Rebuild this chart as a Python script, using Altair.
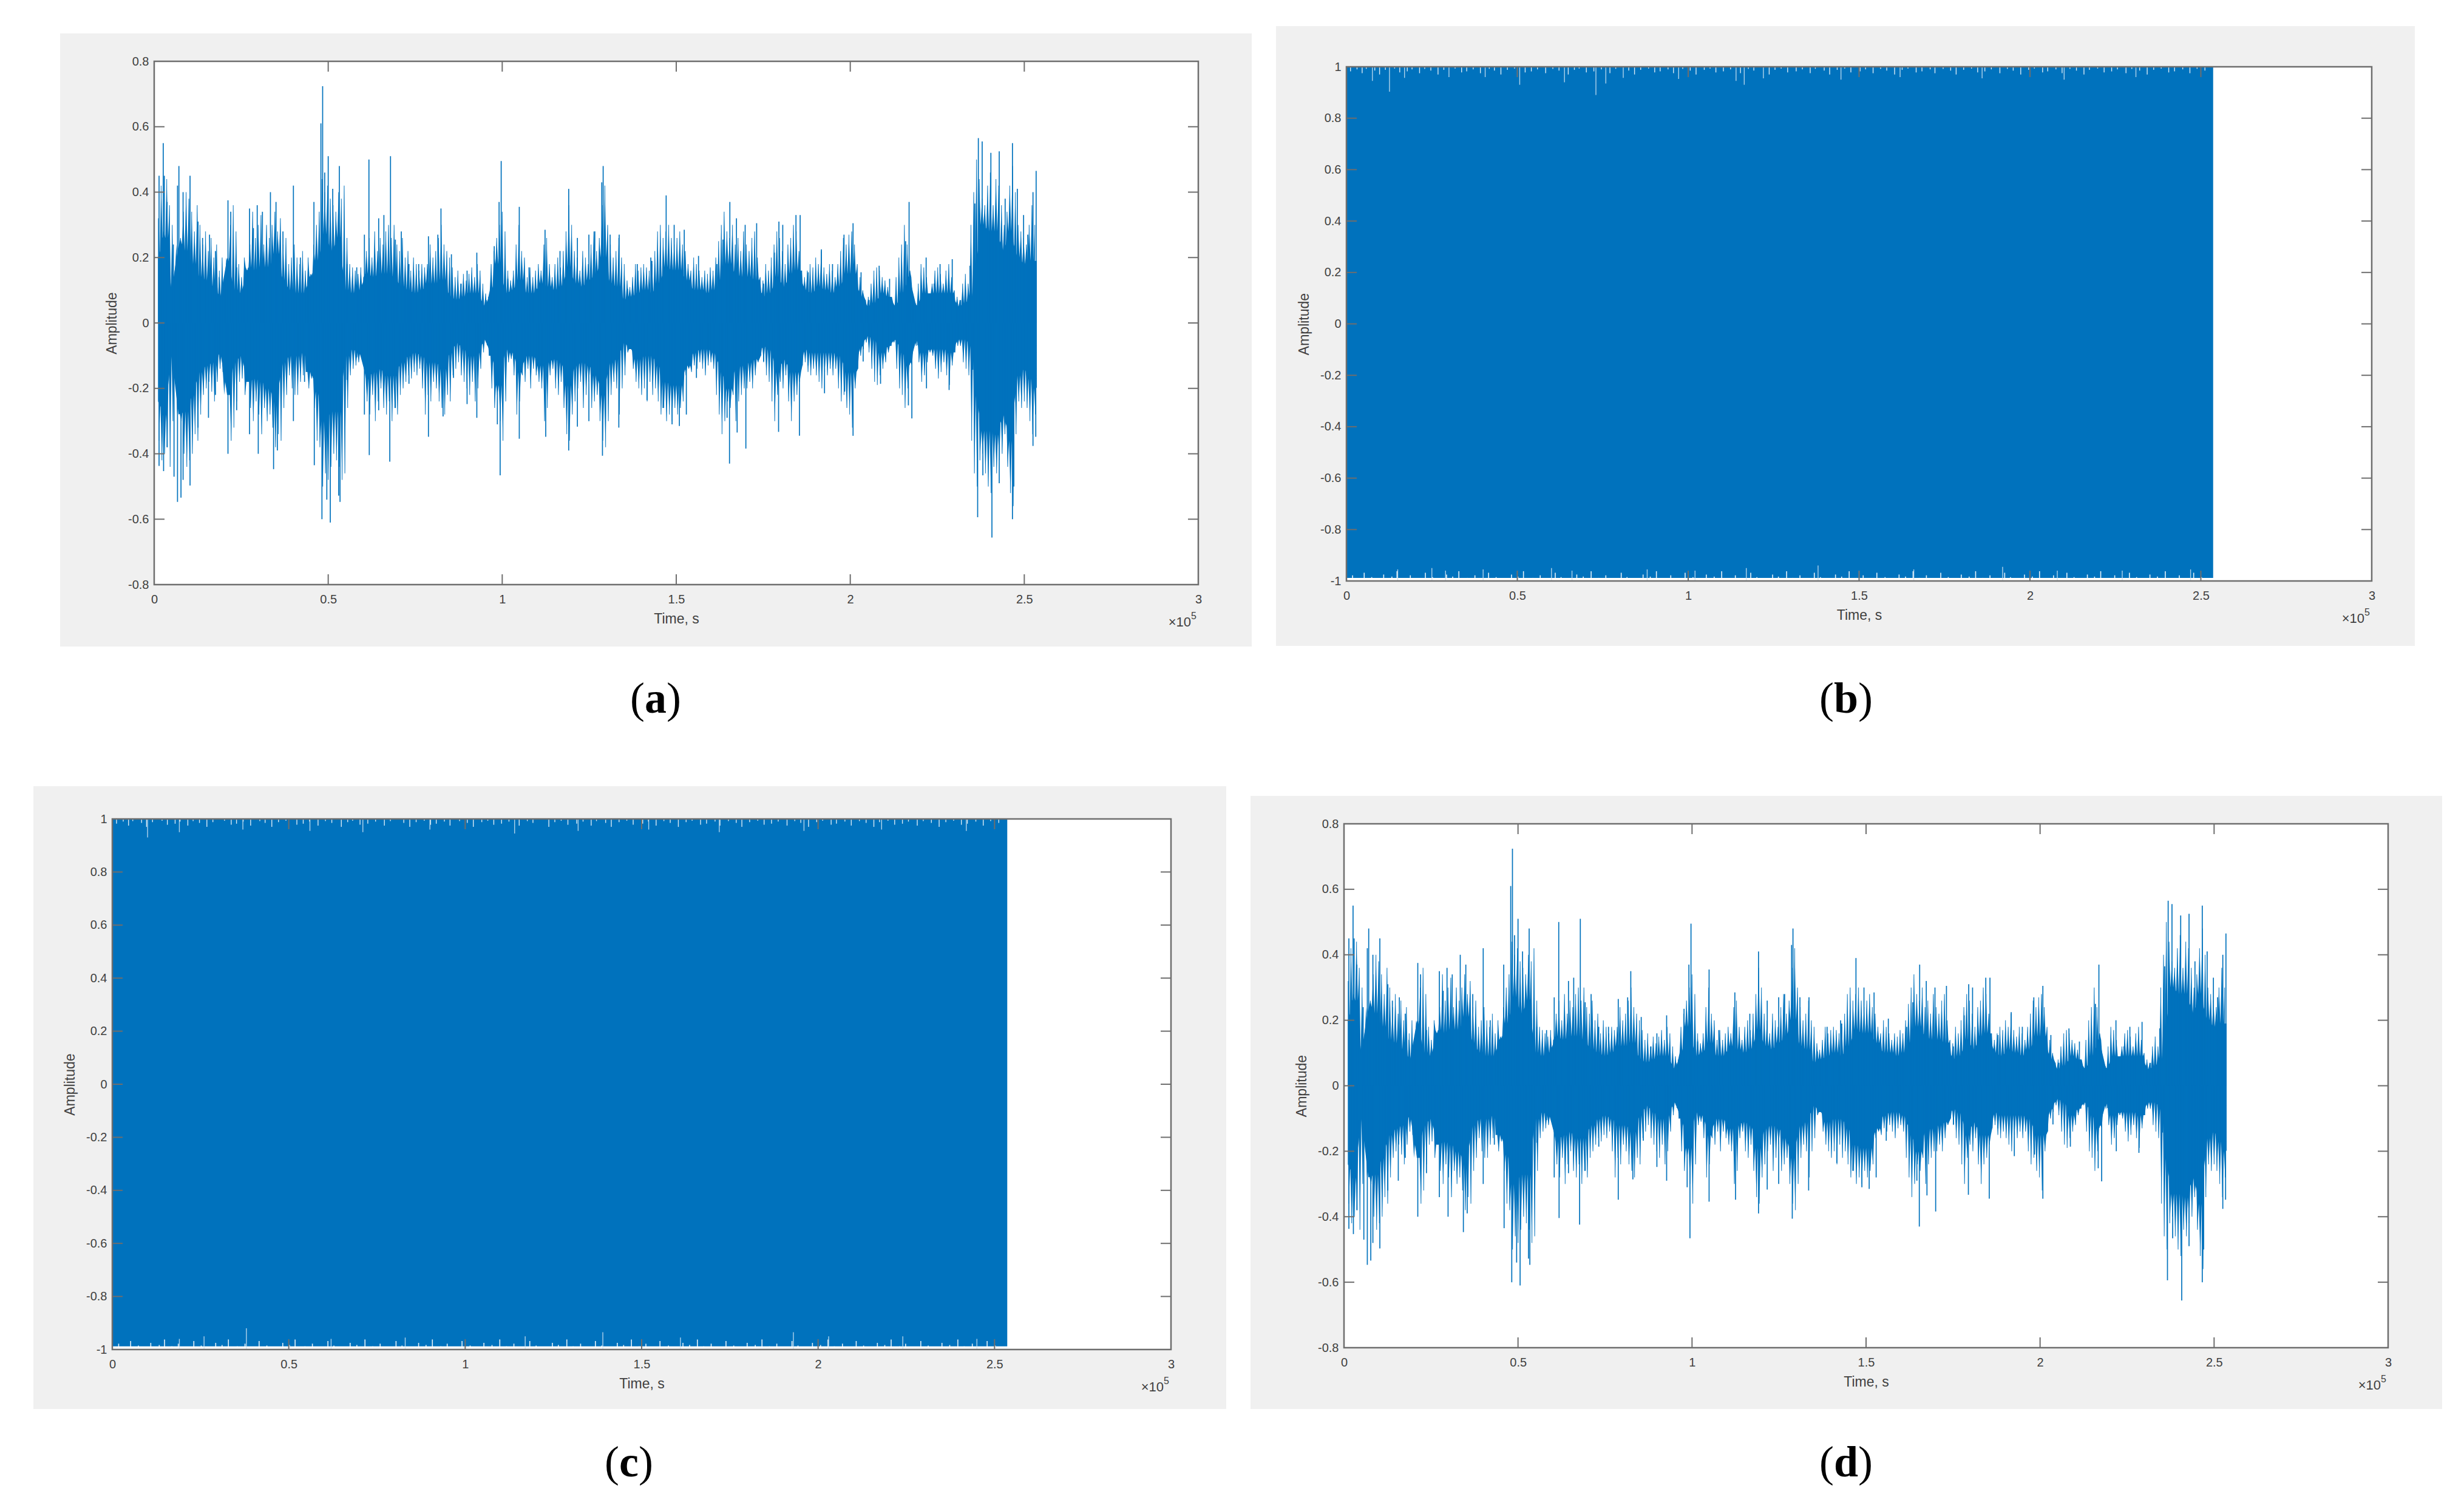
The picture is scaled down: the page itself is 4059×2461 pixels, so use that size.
import altair as alt

# time axis is in units of 1e5 (the x10^5 label is drawn separately)
x_ticks = [0, 0.5, 1, 1.5, 2, 2.5, 3]
y_ticks_wave = [-0.8, -0.6, -0.4, -0.2, 0, 0.2, 0.4, 0.6, 0.8]
y_ticks_full = [-1, -0.8, -0.6, -0.4, -0.2, 0, 0.2, 0.4, 0.6, 0.8, 1]

# solid body of the waveform
env_t = [0.011, 0.03, 0.05, 0.07, 0.09, 0.11, 0.13, 0.15, 0.17, 0.19,
         0.21, 0.23, 0.25, 0.27, 0.29, 0.31, 0.33, 0.35, 0.37, 0.39,
         0.41, 0.43, 0.45, 0.47, 0.49, 0.51, 0.53, 0.55, 0.57, 0.59,
         0.61, 0.63, 0.65, 0.67, 0.69, 0.71, 0.73, 0.75, 0.77, 0.79,
         0.81, 0.83, 0.85, 0.87, 0.89, 0.91, 0.93, 0.95, 0.97, 0.99,
         1.01, 1.03, 1.05, 1.07, 1.09, 1.11, 1.13, 1.15, 1.17, 1.19,
         1.21, 1.23, 1.25, 1.27, 1.29, 1.31, 1.33, 1.35, 1.37, 1.39,
         1.41, 1.43, 1.45, 1.47, 1.49, 1.51, 1.53, 1.55, 1.57, 1.59,
         1.61, 1.63, 1.65, 1.67, 1.69, 1.71, 1.73, 1.75, 1.77, 1.79,
         1.81, 1.83, 1.85, 1.87, 1.89, 1.91, 1.93, 1.95, 1.97, 1.99,
         2.01, 2.03, 2.05, 2.07, 2.09, 2.11, 2.13, 2.15, 2.17, 2.19,
         2.21, 2.23, 2.25, 2.27, 2.29, 2.31, 2.33, 2.35, 2.36, 2.38,
         2.40, 2.42, 2.44, 2.46, 2.48, 2.50, 2.52, 2.536]
env_hi = [0.20, 0.26, 0.10, 0.24, 0.22, 0.18, 0.14, 0.13, 0.11, 0.08,
          0.20, 0.10, 0.09, 0.17, 0.16, 0.17, 0.17, 0.21, 0.13, 0.10,
          0.09, 0.09, 0.14, 0.19, 0.27, 0.22, 0.26, 0.10, 0.09, 0.10,
          0.15, 0.14, 0.15, 0.15, 0.14, 0.11, 0.10, 0.09, 0.10, 0.12,
          0.12, 0.13, 0.08, 0.07, 0.08, 0.09, 0.09, 0.05, 0.10, 0.18,
          0.09, 0.10, 0.13, 0.09, 0.09, 0.12, 0.11, 0.10, 0.11, 0.17,
          0.12, 0.11, 0.13, 0.15, 0.20, 0.12, 0.11, 0.07, 0.08, 0.09,
          0.10, 0.09, 0.12, 0.17, 0.16, 0.16, 0.13, 0.10, 0.10, 0.09,
          0.10, 0.13, 0.18, 0.15, 0.14, 0.14, 0.13, 0.08, 0.09, 0.14,
          0.11, 0.15, 0.16, 0.10, 0.09, 0.11, 0.10, 0.09, 0.11, 0.15,
          0.15, 0.08, 0.05, 0.06, 0.09, 0.08, 0.05, 0.09, 0.14, 0.05,
          0.09, 0.09, 0.09, 0.09, 0.09, 0.05, 0.06, 0.08, 0.18, 0.30,
          0.28, 0.28, 0.22, 0.28, 0.20, 0.18, 0.19, 0.19]
env_lo = [-0.24, -0.28, -0.10, -0.28, -0.27, -0.22, -0.15, -0.13, -0.12, -0.09,
          -0.22, -0.12, -0.10, -0.18, -0.17, -0.18, -0.20, -0.24, -0.12, -0.10,
          -0.10, -0.09, -0.15, -0.21, -0.30, -0.27, -0.27, -0.10, -0.08, -0.09,
          -0.17, -0.15, -0.14, -0.16, -0.16, -0.12, -0.10, -0.09, -0.10, -0.12,
          -0.12, -0.14, -0.09, -0.06, -0.08, -0.10, -0.09, -0.05, -0.10, -0.19,
          -0.08, -0.09, -0.15, -0.10, -0.10, -0.13, -0.12, -0.11, -0.12, -0.19,
          -0.13, -0.12, -0.13, -0.16, -0.22, -0.12, -0.11, -0.06, -0.08, -0.11,
          -0.10, -0.10, -0.13, -0.18, -0.19, -0.19, -0.13, -0.09, -0.08, -0.08,
          -0.09, -0.15, -0.20, -0.14, -0.13, -0.12, -0.11, -0.07, -0.08, -0.15,
          -0.11, -0.15, -0.15, -0.08, -0.09, -0.09, -0.09, -0.09, -0.10, -0.15,
          -0.15, -0.07, -0.04, -0.05, -0.09, -0.07, -0.05, -0.09, -0.13, -0.05,
          -0.09, -0.08, -0.08, -0.08, -0.09, -0.05, -0.05, -0.07, -0.22, -0.33,
          -0.33, -0.34, -0.28, -0.36, -0.16, -0.14, -0.17, -0.20]

# needle tips of the trace, evenly spaced along the data, in hundredths of amplitude
hair_up = [32, 42, 28, 44, 36, 30, 16, 14, 26, 34, 40, 38,
           34, 28, 36, 30, 24, 28, 22, 26, 20, 24, 16, 20, 13,
           18, 30, 36, 28, 18, 14, 20, 16, 24, 34, 26, 30,
           33, 24, 30, 26, 30, 34, 28, 32, 24, 26, 18, 20, 24,
           20, 18, 22, 16, 20, 15, 24, 30, 34, 44, 40, 42,
           38, 36, 34, 40, 38, 42, 26, 18, 17, 16, 15, 17, 14,
           22, 26, 20, 28, 22, 26, 24, 28, 30, 26, 30, 24,
           22, 26, 20, 22, 16, 20, 18, 16, 18, 17, 18, 24, 20,
           22, 26, 30, 24, 22, 20, 17, 14, 16, 12, 15, 13,
           15, 17, 14, 18, 16, 12, 9, 8, 18, 22, 26, 30, 34,
           28, 16, 13, 16, 24, 30, 22, 20, 14, 17, 14, 16,
           18, 16, 24, 26, 18, 14, 18, 20, 17, 22, 28, 36, 30,
           22, 20, 16, 22, 20, 18, 24, 28, 22, 26, 36, 42,
           30, 24, 20, 22, 26, 20, 18, 13, 11, 14, 18, 16, 17,
           18, 17, 16, 18, 22, 28, 30, 26, 28, 30, 26, 24,
           26, 28, 24, 22, 18, 16, 20, 18, 16, 14, 16, 15, 17,
           16, 20, 25, 30, 34, 28, 26, 30, 24, 26, 22, 28,
           24, 22, 26, 28, 20, 14, 13, 18, 16, 20, 24, 28, 26,
           22, 18, 24, 26, 30, 28, 22, 16, 14, 16, 18, 17,
           20, 18, 22, 17, 15, 18, 16, 14, 18, 22, 26, 24, 27,
           28, 24, 18, 14, 10, 7, 8, 12, 16, 17, 16, 14,
           13, 11, 8, 6, 14, 20, 24, 30, 24, 16, 8, 6, 12,
           18, 17, 14, 9, 12, 16, 17, 15, 12, 16, 18, 14,
           10, 8, 7, 12, 15, 12, 30, 40, 50, 44, 38, 36, 42,
           46, 36, 44, 42, 36, 30, 34, 42, 48, 40, 30, 28,
           26, 24, 30, 36, 30]
hair_dn = [36, 42, 40, 38, 44, 30, 15, 14, 30, 40, 44, 42,
           40, 34, 36, 28, 22, 20, 18, 21, 24, 18, 14, 15, 16,
           22, 36, 32, 24, 18, 17, 22, 18, 26, 30, 24, 28,
           34, 26, 30, 28, 32, 38, 34, 36, 26, 22, 16, 20, 22,
           22, 18, 16, 15, 20, 17, 26, 36, 38, 50, 46, 48,
           44, 40, 42, 44, 48, 46, 26, 16, 14, 13, 12, 10, 14,
           24, 28, 22, 30, 24, 20, 26, 28, 24, 30, 26, 28,
           22, 20, 18, 16, 17, 15, 16, 14, 20, 28, 22, 24, 18,
           20, 24, 26, 28, 22, 24, 16, 14, 12, 16, 18, 20,
           22, 18, 24, 20, 14, 9, 6, 10, 20, 26, 22, 30, 36,
           24, 12, 11, 16, 28, 24, 16, 18, 14, 20, 14, 16,
           18, 20, 30, 26, 16, 14, 20, 22, 18, 26, 34, 36, 28,
           24, 20, 18, 26, 22, 18, 26, 24, 22, 30, 36, 38,
           30, 22, 18, 20, 28, 20, 16, 9, 8, 14, 18, 20, 22,
           20, 24, 18, 22, 20, 24, 28, 26, 30, 28, 30, 26,
           28, 26, 24, 16, 14, 15, 13, 14, 12, 14, 16, 13, 12,
           14, 22, 28, 34, 30, 24, 26, 22, 30, 24, 22, 20,
           20, 18, 20, 16, 12, 10, 12, 16, 18, 24, 30, 22, 18,
           20, 16, 24, 30, 24, 22, 18, 13, 12, 15, 16, 14,
           16, 18, 20, 15, 16, 14, 16, 14, 20, 24, 22, 26, 28,
           32, 20, 14, 10, 8, 6, 9, 14, 18, 19, 16, 14,
           12, 9, 7, 6, 14, 20, 22, 26, 20, 12, 7, 7, 12,
           18, 16, 12, 9, 10, 14, 17, 15, 12, 16, 19, 13,
           9, 7, 7, 12, 14, 16, 36, 46, 50, 42, 40, 46, 50,
           52, 44, 46, 42, 40, 34, 44, 52, 56, 34, 24, 26,
           24, 26, 30, 34, 28]

# spike tips above zero
up_t = [0.014, 0.026, 0.029, 0.037, 0.055, 0.067, 0.071, 0.083, 0.103, 0.126, 0.139, 0.159, 0.176, 0.187, 0.212, 0.22, 0.237, 0.274, 0.285, 0.296,
        0.311, 0.334, 0.35, 0.37, 0.40, 0.42, 0.459, 0.479, 0.484, 0.49, 0.50, 0.513, 0.532, 0.554, 0.582, 0.604, 0.617, 0.645, 0.66, 0.679,
        0.693, 0.71, 0.732, 0.76, 0.788, 0.815, 0.824, 0.854, 0.882, 0.899, 0.927, 0.954, 0.977, 0.991, 0.997, 1.016, 1.049, 1.077, 1.123, 1.166,
        1.191, 1.216, 1.249, 1.266, 1.286, 1.29, 1.31, 1.336, 1.36, 1.388, 1.427, 1.43, 1.471, 1.494, 1.523, 1.564, 1.617, 1.634, 1.654, 1.673,
        1.698, 1.731, 1.751, 1.782, 1.795, 1.806, 1.844, 1.856, 1.879, 1.917, 1.949, 1.982, 2.008, 2.031, 2.054, 2.083, 2.113, 2.133, 2.159, 2.169,
        2.19, 2.218, 2.241, 2.258, 2.293, 2.317, 2.344, 2.358, 2.368, 2.379, 2.404, 2.428, 2.445, 2.466, 2.48, 2.498, 2.51, 2.525, 2.534]
up_v = [0.45, 0.55, 0.45, 0.37, 0.24, 0.42, 0.48, 0.40, 0.45, 0.31, 0.26, 0.27, 0.22, 0.14, 0.375, 0.34, 0.17, 0.35, 0.29, 0.36,
        0.34, 0.40, 0.37, 0.28, 0.42, 0.20, 0.37, 0.61, 0.724, 0.46, 0.51, 0.41, 0.48, 0.18, 0.17, 0.27, 0.50, 0.32, 0.33, 0.51,
        0.255, 0.28, 0.18, 0.18, 0.265, 0.27, 0.35, 0.21, 0.12, 0.16, 0.215, 0.07, 0.235, 0.37, 0.495, 0.135, 0.355, 0.17, 0.285, 0.22,
        0.41, 0.26, 0.27, 0.28, 0.43, 0.48, 0.27, 0.27, 0.105, 0.18, 0.20, 0.19, 0.39, 0.30, 0.285, 0.205, 0.18, 0.255, 0.37, 0.32,
        0.30, 0.305, 0.12, 0.215, 0.31, 0.30, 0.33, 0.33, 0.155, 0.225, 0.18, 0.27, 0.305, 0.155, 0.07, 0.175, 0.135, 0.055, 0.25, 0.37,
        0.055, 0.20, 0.12, 0.18, 0.195, 0.07, 0.175, 0.365, 0.565, 0.555, 0.52, 0.525, 0.38, 0.55, 0.41, 0.33, 0.27, 0.40, 0.465]

# spike tips below zero
dn_t = [0.014, 0.027, 0.037, 0.057, 0.067, 0.077, 0.083, 0.103, 0.126, 0.156, 0.176, 0.212, 0.237, 0.274, 0.299, 0.343, 0.354, 0.40, 0.432, 0.46,
        0.482, 0.496, 0.506, 0.53, 0.534, 0.554, 0.582, 0.604, 0.618, 0.645, 0.677, 0.693, 0.732, 0.788, 0.83, 0.86, 0.899, 0.927, 0.957, 0.986,
        0.994, 1.049, 1.125, 1.191, 1.216, 1.249, 1.288, 1.335, 1.366, 1.416, 1.462, 1.488, 1.509, 1.529, 1.558, 1.617, 1.646, 1.653, 1.675, 1.70,
        1.751, 1.794, 1.854, 1.879, 1.926, 1.984, 2.008, 2.037, 2.054, 2.087, 2.133, 2.167, 2.177, 2.194, 2.219, 2.247, 2.284, 2.352, 2.366, 2.381,
        2.407, 2.428, 2.466, 2.47, 2.525, 2.533]
dn_v = [-0.437, -0.453, -0.38, -0.47, -0.547, -0.534, -0.48, -0.497, -0.32, -0.29, -0.22, -0.40, -0.267, -0.34, -0.40, -0.447, -0.39, -0.30, -0.18, -0.435,
        -0.60, -0.54, -0.61, -0.528, -0.547, -0.174, -0.105, -0.28, -0.404, -0.267, -0.424, -0.26, -0.186, -0.348, -0.286, -0.168, -0.248, -0.29, -0.068, -0.31,
        -0.466, -0.354, -0.348, -0.39, -0.317, -0.30, -0.406, -0.32, -0.08, -0.236, -0.26, -0.31, -0.315, -0.28, -0.168, -0.118, -0.29, -0.43, -0.335, -0.384,
        -0.118, -0.333, -0.345, -0.13, -0.215, -0.21, -0.345, -0.118, -0.056, -0.186, -0.062, -0.252, -0.292, -0.068, -0.20, -0.08, -0.205, -0.143, -0.594, -0.466,
        -0.656, -0.49, -0.60, -0.50, -0.376, -0.348]

# saturated signal in panels (b) and (c)
full_t = [0.0, 2.536]
full_hi = [1.0, 1.0]
full_lo = [-0.988, -0.988]

# white nicks along the top and bottom edge of the saturated signal
top_small = [0.012, 0.031, 0.046, 0.058, 0.083, 0.097, 0.114, 0.141, 0.156, 0.178, 0.192, 0.214, 0.229, 0.247, 0.268, 0.285, 0.318, 0.337, 0.352, 0.371,
             0.392, 0.418, 0.433, 0.452, 0.471, 0.492, 0.523, 0.541, 0.559, 0.583, 0.604, 0.622, 0.649, 0.667, 0.681, 0.702, 0.724, 0.746, 0.771, 0.788,
             0.826, 0.843, 0.861, 0.884, 0.902, 0.918, 0.941, 0.957, 0.984, 1.006, 1.023, 1.047, 1.064, 1.081, 1.103, 1.124, 1.153, 1.176, 1.192, 1.237,
             1.254, 1.272, 1.291, 1.316, 1.334, 1.357, 1.372, 1.398, 1.414, 1.436, 1.458, 1.476, 1.503, 1.519, 1.541, 1.563, 1.581, 1.604, 1.626, 1.643,
             1.667, 1.684, 1.708, 1.722, 1.746, 1.768, 1.784, 1.806, 1.829, 1.847, 1.868, 1.887, 1.912, 1.934, 1.951, 1.973, 1.996, 2.013, 2.037, 2.052,
             2.076, 2.094, 2.117, 2.136, 2.158, 2.174, 2.198, 2.217, 2.239, 2.256, 2.281, 2.298, 2.321, 2.343, 2.362, 2.384, 2.406, 2.423, 2.447, 2.468, 2.489, 2.512]
bot_small = [0.018, 0.037, 0.052, 0.074, 0.091, 0.109, 0.133, 0.148, 0.169, 0.187, 0.206, 0.231, 0.252, 0.274, 0.293, 0.311, 0.329, 0.354, 0.376, 0.398,
             0.416, 0.438, 0.461, 0.483, 0.502, 0.518, 0.546, 0.567, 0.588, 0.611, 0.628, 0.652, 0.674, 0.693, 0.716, 0.738, 0.759, 0.783, 0.804, 0.821,
             0.846, 0.868, 0.889, 0.907, 0.931, 0.949, 0.972, 0.991, 1.014, 1.036, 1.053, 1.076, 1.098, 1.117, 1.138, 1.162, 1.183, 1.201, 1.226, 1.247,
             1.264, 1.288, 1.306, 1.327, 1.348, 1.369, 1.387, 1.407, 1.431, 1.449, 1.471, 1.493, 1.512, 1.534, 1.552, 1.576, 1.593, 1.617, 1.636, 1.658,
             1.676, 1.697, 1.718, 1.739, 1.761, 1.777, 1.799, 1.822, 1.841, 1.862, 1.883, 1.901, 1.926, 1.943, 1.966, 1.984, 2.007, 2.028, 2.046, 2.069,
             2.087, 2.108, 2.129, 2.147, 2.168, 2.189, 2.207, 2.231, 2.248, 2.272, 2.291, 2.312, 2.334, 2.351, 2.373, 2.396, 2.414, 2.437, 2.458, 2.479, 2.502, 2.521]
top_depth = [0.982, 0.99, 0.975, 0.992, 0.985, 0.97, 0.988, 0.993, 0.978]
bot_depth = [-0.978, -0.99, -0.968, -0.985, -0.992, -0.975, -0.983, -0.962, -0.988]
b_top_t = [0.076, 0.126, 0.17, 0.30, 0.406, 0.507, 0.638, 0.73, 0.759, 0.81, 0.972, 1.14, 1.164, 1.22, 1.447, 1.62, 1.86, 2.10, 2.31]
b_top_v = [0.945, 0.903, 0.957, 0.96, 0.96, 0.93, 0.94, 0.89, 0.935, 0.957, 0.953, 0.945, 0.93, 0.955, 0.95, 0.96, 0.955, 0.95, 0.96]
b_bot_t = [0.15, 0.25, 0.29, 0.40, 0.60, 0.66, 0.88, 1.02, 1.17, 1.38, 1.50, 1.66, 1.92, 2.08, 2.27, 2.47]
b_bot_v = [-0.955, -0.95, -0.96, -0.955, -0.95, -0.96, -0.955, -0.96, -0.95, -0.94, -0.96, -0.955, -0.945, -0.96, -0.96, -0.955]
c_top_t = [0.10, 0.19, 0.37, 0.56, 0.71, 0.90, 1.14, 1.32, 1.52, 1.72, 1.96, 2.18, 2.42]
c_top_v = [0.93, 0.95, 0.96, 0.955, 0.95, 0.96, 0.945, 0.955, 0.96, 0.95, 0.955, 0.96, 0.955]
c_bot_t = [0.19, 0.26, 0.38, 0.62, 0.83, 1.17, 1.39, 1.61, 1.93, 2.03, 2.24, 2.45]
c_bot_v = [-0.96, -0.95, -0.92, -0.96, -0.955, -0.95, -0.935, -0.955, -0.935, -0.95, -0.95, -0.96]

BLUE = "#0072BD"
GRAY = "#F0F0F0"
BOX = "#6E6E6E"
TEXT = "#404040"
FONT = "Liberation Sans"
SERIF = "Liberation Serif"
W, H = 4043, 2445  # whole drawing, page margin is 8

one = alt.Data(values=[{}])


def needles(tips, start, end, body):
    # tip, then down to the solid body half way to the next tip
    step = (end - start) / (len(tips) - 1)
    t, v = [], []
    for i, tip in enumerate(tips):
        tx = start + i * step
        t.append(tx)
        v.append(tip / 100)
        vx = tx + step / 2
        if vx < end:
            near = min(range(len(env_t)), key=lambda k: abs(env_t[k] - vx))
            t.append(vx)
            v.append(body[near])
    return t, v


def panel(gray, plot, ymax, yticks, letter, cap, half, wave=None, nicks=None):
    # everything below works in chart coordinates: page pixel minus the 8px margin
    gx0, gy0, gx1, gy1 = [p - 8 for p in gray]
    x0, y0, x1, y1 = [p - 8 for p in plot]
    xs = alt.Scale(domain=[0, 3], range=[x0, x1], nice=False, zero=False)
    ys = alt.Scale(domain=[-ymax, ymax], range=[y1, y0], nice=False, zero=False)
    ax = alt.Axis(values=x_ticks, title="Time, s", labelExpr="datum.value + ''", grid=False, domain=False,
                  ticks=False, labelPadding=14, titlePadding=11, labelFontSize=20, titleFontSize=23,
                  labelFont=FONT, titleFont=FONT, labelColor=TEXT, titleColor=TEXT, orient="bottom",
                  offset=y1 - H, titleX=(x0 + x1) / 2, titleFontWeight="normal", zindex=1,
                  labelFlush=False, labelOverlap=False)
    ay = alt.Axis(values=yticks, title="Amplitude", labelExpr="datum.value + ''", grid=False, domain=False,
                  ticks=False, labelPadding=9, titlePadding=14, labelFontSize=20, titleFontSize=23,
                  labelFont=FONT, titleFont=FONT, labelColor=TEXT, titleColor=TEXT, orient="left",
                  offset=-x0, titleY=(y0 + y1) / 2, titleFontWeight="normal", zindex=1,
                  labelFlush=False, labelOverlap=False)
    X = alt.X("t:Q", scale=xs, axis=ax)
    Y = alt.Y("v:Q", scale=ys, axis=ay)

    def box(b, fill):
        return alt.Chart(one).mark_rect(fill=fill).encode(
            x=alt.value(b[0]), x2=alt.value(b[2]), y=alt.value(b[1]), y2=alt.value(b[3]))

    layers = [box((gx0, gy0, gx1, gy1), GRAY), box((x0, y0, x1, y1), "#FFFFFF")]

    def area(t, v, lo):
        return alt.Chart(alt.Data(values=[{"t": a, "v": b, "lo": c} for a, b, c in zip(t, v, lo)])).mark_area(
            color=BLUE, opacity=1).encode(x=X, y=Y, y2="lo:Q")

    def rule(t, v, edge, color, size, op=1.0):
        return alt.Chart(alt.Data(values=[{"t": a, "v": b, "z": edge} for a, b in zip(t, v)])).mark_rule(
            color=color, strokeWidth=size, opacity=op).encode(x=X, y=Y, y2="z:Q")

    if wave:
        layers.append(area(env_t, env_hi, env_lo))
        # needles standing on the solid body, then the single tall spikes
        ut, uv = needles(hair_up, 0.012, 2.53, env_hi)
        dt, dv = needles(hair_dn, 0.014, 2.532, [-a for a in env_lo])
        dv = [-a if i % 2 else -a for i, a in enumerate([abs(p) for p in dv])]
        layers.append(area(ut, uv, [0] * len(ut)))
        layers.append(area(dt, dv, [0] * len(dt)))
        layers.append(rule(ut[::2], uv[::2], 0, BLUE, 1.3, 0.75))
        layers.append(rule(dt[::2], dv[::2], 0, BLUE, 1.3, 0.75))
        layers.append(rule(up_t, up_v, 0, BLUE, 1.7))
        layers.append(rule(dn_t, dn_v, 0, BLUE, 1.7))
    else:
        layers.append(area(full_t, full_hi, full_lo))
        top_v = [top_depth[i % len(top_depth)] for i in range(len(top_small))]
        bot_v = [bot_depth[i % len(bot_depth)] for i in range(len(bot_small))]
        layers.append(rule(top_small, top_v, 1, "#FFFFFF", 1.4, 0.85))
        layers.append(rule(bot_small, bot_v, -1, "#FFFFFF", 1.6, 0.9))
        layers.append(rule(nicks[0], nicks[1], 1, "#CFE4F3", 1.4, 0.85))
        layers.append(rule(nicks[2], nicks[3], -1, "#CFE4F3", 1.4, 0.85))

    # inward ticks on all four sides
    xt = alt.Data(values=[{"t": a} for a in x_ticks[1:-1]])
    yt = alt.Data(values=[{"v": a} for a in yticks[1:-1]])
    for a0, a1 in [(y0, y0 + 17), (y1 - 17, y1)]:
        layers.append(alt.Chart(xt).mark_rule(color=BOX, strokeWidth=2).encode(
            x=X, y=alt.value(a0), y2=alt.value(a1)))
    for a0, a1 in [(x0, x0 + 17), (x1 - 17, x1)]:
        layers.append(alt.Chart(yt).mark_rule(color=BOX, strokeWidth=2).encode(
            y=Y, x=alt.value(a0), x2=alt.value(a1)))
    layers.append(alt.Chart(one).mark_rect(fillOpacity=0, stroke=BOX, strokeWidth=2.5).encode(
        x=alt.value(x0), x2=alt.value(x1), y=alt.value(y0), y2=alt.value(y1)))

    # x10^5 note and sub-caption
    def txt(s, x, y, size, font=FONT, color=TEXT, align="left", weight="normal"):
        return alt.Chart(one).mark_text(text=s, font=font, fontSize=size, color=color, align=align,
                                        baseline="middle", fontWeight=weight).encode(
            x=alt.value(x), y=alt.value(y))

    layers.append(txt("×10", x1 - 12, y1 + 62, 22, align="right"))
    layers.append(txt("5", x1 - 12, y1 + 52, 16))
    cx, cy = cap[0] - 8, cap[1] - 8
    layers.append(txt("(", cx - half, cy, 72, SERIF, "#000000", "right"))
    layers.append(txt(letter, cx, cy, 72, SERIF, "#000000", "center", "bold"))
    layers.append(txt(")", cx + half, cy, 72, SERIF, "#000000", "left"))
    return alt.layer(*layers)


a = panel((99, 55, 2062, 1065), (254, 101, 1974, 963), 0.8, y_ticks_wave, "a", (1080, 1152), 18, wave=True)
b = panel((2102, 43, 3978, 1064), (2218, 110, 3907, 957), 1, y_ticks_full, "b", (3041, 1152), 20,
          nicks=(b_top_t, b_top_v, b_bot_t, b_bot_v))
c = panel((55, 1295, 2020, 2321), (185, 1349, 1929, 2223), 1, y_ticks_full, "c", (1036, 2410), 16,
          nicks=(c_top_t, c_top_v, c_bot_t, c_bot_v))
d = panel((2060, 1311, 4023, 2321), (2214, 1357, 3934, 2220), 0.8, y_ticks_wave, "d", (3041, 2410), 20, wave=True)

chart = alt.layer(a, b, c, d).resolve_scale(x="independent", y="independent").properties(
    width=W, height=H, padding=0).configure_view(stroke=None)

chart.save("out.html", embed_options={"renderer": "svg", "actions": False})
